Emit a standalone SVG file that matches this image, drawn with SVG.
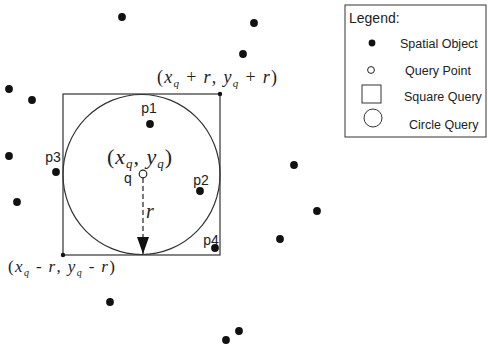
<svg xmlns="http://www.w3.org/2000/svg" width="488" height="346" viewBox="0 0 488 346">
<style>
.dot{fill:#111}
.lbl{font-family:"Liberation Sans",Arial,sans-serif;font-size:14px;fill:#222}
.leg{font-family:"Liberation Sans",Arial,sans-serif;font-size:12.5px;fill:#222}
.math{font-family:"Liberation Serif","Times New Roman",serif;font-style:italic;fill:#222}
.up{font-style:normal}
.shape{fill:none;stroke:#333;stroke-width:1.2}
</style>
<defs>
<marker id="arr" markerWidth="17" markerHeight="12" refX="17" refY="6" orient="auto" markerUnits="userSpaceOnUse">
<path d="M0,0 L17,6 L0,12 Z" fill="#111"/>
</marker>
</defs>
<rect width="488" height="346" fill="#fff"/>
<g id="square-query">
<rect class="shape" x="63" y="94" width="157" height="161"/>
<circle class="dot" cx="220" cy="94" r="2.2"/>
<circle class="dot" cx="63" cy="255" r="2.2"/>
</g>
<g id="circle-query">
<ellipse class="shape" cx="141.5" cy="174.5" rx="78.5" ry="80"/>
</g>
<g id="connectors">
<line x1="143" y1="178" x2="143" y2="254" stroke="#222" stroke-width="1.2" stroke-dasharray="5,3" marker-end="url(#arr)"/>
</g>
<g id="q">
<circle cx="143" cy="174" r="3.8" fill="#fff" stroke="#222" stroke-width="1.2"/>
<text class="lbl" x="128" y="183" text-anchor="middle">q</text>
</g>
<g id="r-label"><text class="math" x="150" y="218" font-size="20" text-anchor="middle">r</text></g>
<g id="p1"><circle class="dot" cx="150" cy="124" r="3.9"/><text class="lbl" x="149" y="113" text-anchor="middle">p1</text></g>
<g id="p2"><circle class="dot" cx="200" cy="191" r="3.9"/><text class="lbl" x="201" y="185" text-anchor="middle">p2</text></g>
<g id="p3"><circle class="dot" cx="56" cy="172" r="3.9"/><text class="lbl" x="53" y="162" text-anchor="middle">p3</text></g>
<g id="p4"><circle class="dot" cx="215" cy="248" r="3.9"/><text class="lbl" x="211" y="245" text-anchor="middle">p4</text></g>
<g id="objects">
<circle class="dot" cx="122" cy="17" r="3.9"/>
<circle class="dot" cx="254" cy="23" r="3.9"/>
<circle class="dot" cx="243" cy="54" r="3.9"/>
<circle class="dot" cx="9" cy="89" r="3.9"/>
<circle class="dot" cx="32" cy="100" r="3.9"/>
<circle class="dot" cx="9" cy="156" r="3.9"/>
<circle class="dot" cx="294" cy="165" r="3.9"/>
<circle class="dot" cx="317" cy="211" r="3.9"/>
<circle class="dot" cx="17" cy="202" r="3.9"/>
<circle class="dot" cx="280" cy="239" r="3.9"/>
<circle class="dot" cx="110" cy="302" r="3.9"/>
<circle class="dot" cx="239" cy="331" r="3.9"/>
<circle class="dot" cx="226" cy="340" r="3.9"/>
</g>
<g id="label-top"><text class="math" x="157" y="83" font-size="18" textLength="120" lengthAdjust="spacing"><tspan class="up">(</tspan>x<tspan font-size="11" dy="4">q</tspan><tspan dy="-4" class="up"> + </tspan>r<tspan class="up">, </tspan>y<tspan font-size="11" dy="4">q</tspan><tspan dy="-4" class="up"> + </tspan>r<tspan class="up">)</tspan></text></g>
<g id="label-center"><text class="math" x="107" y="164" font-size="22" textLength="65" lengthAdjust="spacing"><tspan class="up">(</tspan>x<tspan font-size="13" dy="4">q</tspan><tspan dy="-4" class="up">, </tspan>y<tspan font-size="13" dy="4">q</tspan><tspan dy="-4" class="up">)</tspan></text></g>
<g id="label-bottom"><text class="math" x="8" y="272" font-size="17" textLength="107" lengthAdjust="spacing"><tspan class="up">(</tspan>x<tspan font-size="10" dy="4">q</tspan><tspan dy="-4" class="up">  -  </tspan>r<tspan class="up">, </tspan>y<tspan font-size="10" dy="4">q</tspan><tspan dy="-4" class="up">  -  </tspan>r<tspan class="up">)</tspan></text></g>
<g id="legend">
<rect x="345" y="5" width="141" height="132" fill="#fff" stroke="#333" stroke-width="1"/>
<text class="lbl" x="349" y="23" font-size="17">Legend:</text>
<circle class="dot" cx="372" cy="43" r="3.4"/>
<text class="leg" x="400" y="48">Spatial Object</text>
<circle cx="371" cy="70" r="3.4" fill="#fff" stroke="#222" stroke-width="1"/>
<text class="leg" x="405" y="75">Query Point</text>
<rect x="362" y="85" width="19" height="18" fill="none" stroke="#333" stroke-width="1"/>
<text class="leg" x="404" y="101">Square Query</text>
<circle cx="373" cy="118" r="9" fill="none" stroke="#333" stroke-width="1"/>
<text class="leg" x="409" y="129">Circle Query</text>
</g>
</svg>
